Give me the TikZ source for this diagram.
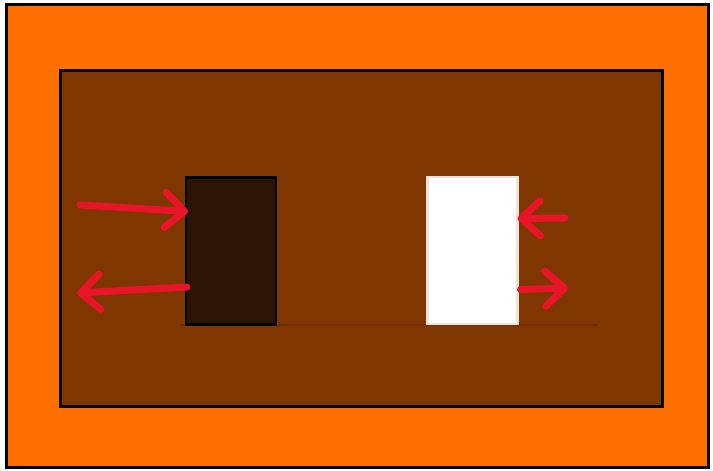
\documentclass[tikz,border=0pt]{standalone}
\usetikzlibrary{arrows.meta,calc}
\definecolor{wallorange}{RGB}{255,111,0}
\definecolor{roombrown}{RGB}{128,54,0}
\definecolor{floorline}{RGB}{112,46,0}
\definecolor{darkdoor}{RGB}{43,20,4}
\definecolor{doorrim}{RGB}{236,228,220}
\definecolor{flowred}{RGB}{232,20,40}
\begin{document}
\begin{tikzpicture}[
  x=0.01cm, y=-0.01cm,
  frame/.style={rectangle, draw=black, line width=0.9pt,
                inner sep=0pt, outer sep=0pt},
  door/.style={rectangle, inner sep=0pt, outer sep=0pt,
               minimum width=0.9cm, minimum height=1.47cm},
  arr/.style={draw=flowred, line width=2pt, line cap=round,
              -{Straight Barb[length=5.5pt,width=10pt,round]}}
]
\useasboundingbox (0,0) rectangle (713,470);
% walls
\node[frame, fill=wallorange, minimum width=7.01cm, minimum height=4.62cm]
  (outer) at (357.5,236) {};
\node[frame, fill=roombrown, minimum width=6.01cm, minimum height=3.35cm]
  (room) at (361.5,238.5) {};
\draw[floorline, line width=0.4pt] (180,325) -- (598,325);
% openings
\node[door, fill=darkdoor, draw=black, line width=0.6pt]
  (dark) at (231,251) {};
\node[door, fill=white, draw=doorrim, line width=0.8pt]
  (light) at (472.5,250.5) {};
% flows
\coordinate (inA)  at (80,205);
\coordinate (outB) at (77,293);
\coordinate (inC)  at (565,218);
\coordinate (outD) at (568,288);
\draw[arr] (inA) -- ($(dark.north west)+(2,34)$);
\draw[arr] ($(dark.west)+(1,36)$) -- (outB);
\draw[arr] (inC) -- ($(light.east)+(0,-32)$);
\draw[arr] ($(light.east)+(3,39)$) -- (outD);
\end{tikzpicture}
\end{document}
